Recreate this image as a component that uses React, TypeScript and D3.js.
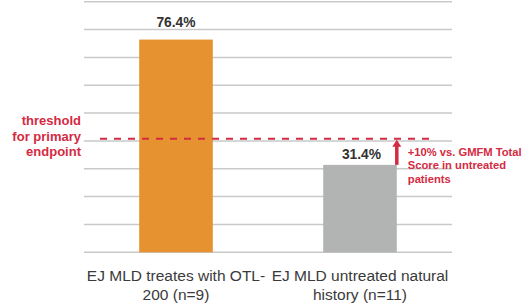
import React, { useEffect, useRef } from "react";
import * as d3 from "d3";

const categories = ["EJ MLD treates with OTL-\n200 (n=9)", "EJ MLD untreated natural\nhistory (n=11)"];
const values = [76.4, 31.4];
const barColors = ["#e69231", "#b2b4b4"];
const threshold = 40.8;
const gridTicks = [0, 10, 20, 30, 40, 50, 60, 70, 80, 90];
const thresholdLabel = ["threshold", "for primary", "endpoint"];
const noteLabel = ["+10% vs. GMFM Total", "Score in untreated", "patients"];

const W = 531;
const H = 306;

export default function App() {
  const ref = useRef<SVGSVGElement>(null);

  useEffect(() => {
    const svg = d3.select(ref.current);
    svg.selectAll("*").remove();

    const x = d3.scaleBand()
      .domain(categories)
      .range([84, 452])
      .paddingInner(0.6)
      .paddingOuter(0.3);

    const y = d3.scaleLinear()
      .domain([0, 90])
      .range([252.3, 1.7]);

    const red = "#d42a42";
    const font = "Liberation Sans, Arial, sans-serif";

    // grid
    svg.append("g")
      .selectAll("line")
      .data(gridTicks)
      .join("line")
      .attr("x1", 84)
      .attr("x2", 452)
      .attr("y1", d => y(d))
      .attr("y2", d => y(d))
      .attr("stroke", "#c9c9c9")
      .attr("stroke-width", 1.5);

    // bars
    svg.append("g")
      .selectAll("rect")
      .data(values)
      .join("rect")
      .attr("x", (d, i) => x(categories[i])!)
      .attr("width", x.bandwidth())
      .attr("y", d => y(d))
      .attr("height", d => y(0) - y(d))
      .attr("fill", (d, i) => barColors[i]);

    // value labels
    svg.append("g")
      .selectAll("text")
      .data(values)
      .join("text")
      .attr("x", (d, i) => x(categories[i])! + x.bandwidth() / 2 + (i === 1 ? 1.5 : 0))
      .attr("y", (d, i) => y(d) - (i === 0 ? 13 : 6))
      .attr("text-anchor", "middle")
      .attr("font-family", font)
      .attr("font-weight", "bold")
      .attr("font-size", 13.8)
      .attr("fill", "#333")
      .text(d => `${d}%`);

    // threshold dashed line
    svg.append("line")
      .attr("x1", 100)
      .attr("x2", 432)
      .attr("y1", y(threshold))
      .attr("y2", y(threshold))
      .attr("stroke", red)
      .attr("stroke-width", 2)
      .attr("stroke-dasharray", "7,7");

    svg.append("text")
      .attr("y", y(threshold) - 13.7)
      .attr("text-anchor", "end")
      .attr("font-family", font)
      .attr("font-weight", "bold")
      .attr("font-size", 13)
      .attr("fill", red)
      .selectAll("tspan")
      .data(thresholdLabel)
      .join("tspan")
      .attr("x", 81)
      .attr("dy", (d, i) => (i === 0 ? 0 : 15.7))
      .text(d => d);

    // arrow
    const ax = x(categories[1])! + x.bandwidth();
    svg.append("line")
      .attr("x1", ax)
      .attr("x2", ax)
      .attr("y1", y(values[1]))
      .attr("y2", y(threshold) + 7)
      .attr("stroke", red)
      .attr("stroke-width", 3.5);
    svg.append("path")
      .attr("d", d3.line()([[ax - 4.5, y(threshold) + 8], [ax, y(threshold) + 1], [ax + 4.5, y(threshold) + 8]]) + "Z")
      .attr("fill", red);

    svg.append("text")
      .attr("y", y(threshold) + 17)
      .attr("font-family", font)
      .attr("font-weight", "bold")
      .attr("font-size", 11.2)
      .attr("fill", red)
      .selectAll("tspan")
      .data(noteLabel)
      .join("tspan")
      .attr("x", ax + 11)
      .attr("dy", (d, i) => (i === 0 ? 0 : 13.5))
      .text(d => d);

    // category labels
    const cat = svg.append("g")
      .selectAll("text")
      .data(categories)
      .join("text")
      .attr("text-anchor", "middle")
      .attr("font-family", font)
      .attr("font-size", 15.5)
      .attr("fill", "#3a3a3a")
      .attr("y", 281);
    cat.selectAll("tspan")
      .data(d => d.split("\n").map(t => ({ t, c: d })))
      .join("tspan")
      .attr("x", d => x(d.c)! + x.bandwidth() / 2)
      .attr("dy", (d, i) => (i === 0 ? 0 : 19))
      .text(d => d.t);
  }, []);

  return (
    <svg
      ref={ref}
      width={W}
      height={H}
      style={{ position: "absolute", left: 0, top: 0, background: "#fff" }}
    />
  );
}
